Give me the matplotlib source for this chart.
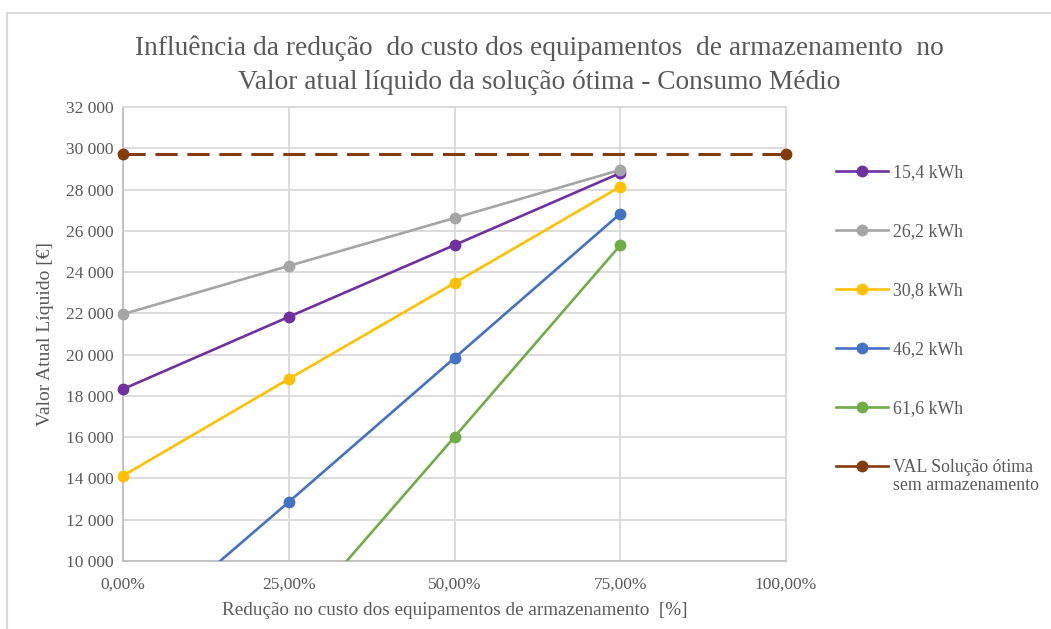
import numpy as np
import matplotlib
matplotlib.use("Agg")
import matplotlib.pyplot as plt
from matplotlib.lines import Line2D
from matplotlib.patches import Rectangle
from matplotlib.ticker import FuncFormatter, MultipleLocator

plt.rcParams['font.family'] = ['Liberation Serif', 'DejaVu Serif']
plt.rcParams['lines.scale_dashes'] = False

TEXT = '#595959'
GRID = '#d9d9d9'

# Storage cost reduction [%]
reduction = [0, 25, 50, 75]
val_x = [0, 100]

# NPV (VAL) per storage capacity [€]
labels = ['15,4 kWh', '26,2 kWh', '30,8 kWh', '46,2 kWh', '61,6 kWh']
v_15_4 = [18330, 21830, 25310, 28800]
v_26_2 = [21960, 24300, 26620, 28950]
v_30_8 = [14130, 18820, 23470, 28140]
v_46_2 = [5950, 12860, 19840, 26830]
v_61_6 = [np.nan, 6770, 16010, 25300]
val_no_storage = [29710, 29710]
val_label = 'VAL Solução ótima\nsem armazenamento'

colors = ['#7030a0', '#a5a5a5', '#ffc000', '#4472c4', '#70ad47']
val_color = '#843c0c'

W, H = 1051, 629
fig = plt.figure(figsize=(W / 100, H / 100), dpi=100)
ax = fig.add_axes([123 / W, 1 - 561 / H, (786 - 123) / W, (561 - 107) / H])

# clip lines only vertically so the edge markers stay whole
clip = Rectangle((-0.05, 0), 1.1, 1.0, transform=ax.transAxes,
                 facecolor='none', edgecolor='none')
ax.add_patch(clip)

LW, MS = 1.9, 7.5
series = [v_15_4, v_26_2, v_30_8, v_46_2, v_61_6]
for vals, c, lab in zip(series, colors, labels):
    ln, = ax.plot(reduction, vals, color=c, lw=LW, marker='o', ms=MS,
                  label=lab, zorder=3)
    ln.set_clip_path(clip)

lv, = ax.plot(val_x, val_no_storage, color=val_color, lw=2.2, ls='--',
              dashes=(16, 7), marker='o', ms=MS, label=val_label, zorder=3)
lv.set_clip_path(clip)

ax.set_xlim(0, 100)
ax.set_ylim(10000, 32000)
ax.xaxis.set_major_locator(MultipleLocator(25))
ax.yaxis.set_major_locator(MultipleLocator(2000))
ax.xaxis.set_major_formatter(FuncFormatter(lambda v, p: f"{v:.2f}".replace('.', ',') + '%'))
ax.yaxis.set_major_formatter(FuncFormatter(lambda v, p: f"{int(v):,}".replace(',', ' ')))
ax.grid(True, color=GRID, lw=1.3, zorder=0)
ax.set_axisbelow(True)
for s in ax.spines.values():
    s.set_color(GRID)
    s.set_linewidth(1.3)
ax.spines['left'].set_color('#bfbfbf')
ax.spines['bottom'].set_color('#bfbfbf')
ax.tick_params(axis='y', length=0, labelsize=12.5, colors=TEXT, pad=7)
ax.tick_params(axis='x', length=0, labelsize=12.5, colors=TEXT, pad=11)

ax.set_xlabel('Redução no custo dos equipamentos de armazenamento  [%]',
              fontsize=13.8, color=TEXT, labelpad=7)
ax.set_ylabel('Valor Atual Líquido [€]', fontsize=14, color=TEXT, labelpad=8)

fig.text(539 / W, 1 - 65 / H,
         'Influência da redução  do custo dos equipamentos  de armazenamento  no\n'
         'Valor atual líquido da solução ótima - Consumo Médio',
         ha='center', va='center', fontsize=19.7, color=TEXT, linespacing=1.45)

# legend to the right of the plot area
entries = list(zip(colors + [val_color], labels + [val_label]))
y0, dy = 171, 59
for i, (c, lab) in enumerate(entries):
    yf = 1 - (y0 + i * dy) / H
    fig.add_artist(Line2D([836 / W, 888 / W], [yf, yf], color=c, lw=LW,
                          transform=fig.transFigure))
    fig.add_artist(Line2D([862 / W], [yf], color=c, marker='o', ms=MS,
                          transform=fig.transFigure))
    first, *rest = lab.split('\n')
    fig.text(893 / W, yf, first, ha='left', va='center_baseline',
             fontsize=12.8, color=TEXT)
    for k, line in enumerate(rest, start=1):
        fig.text(893 / W, yf - k * 18 / H, line, ha='left',
                 va='center_baseline', fontsize=12.8, color=TEXT)

# outer chart frame (left and top edges visible)
fig.add_artist(Line2D([7 / W, 7 / W], [0, 1 - 13 / H], color=GRID, lw=1.5,
                      transform=fig.transFigure))
fig.add_artist(Line2D([7 / W, 1], [1 - 13 / H, 1 - 13 / H], color=GRID, lw=1.5,
                      transform=fig.transFigure))

fig.savefig('out.png', dpi=100, facecolor='white')
